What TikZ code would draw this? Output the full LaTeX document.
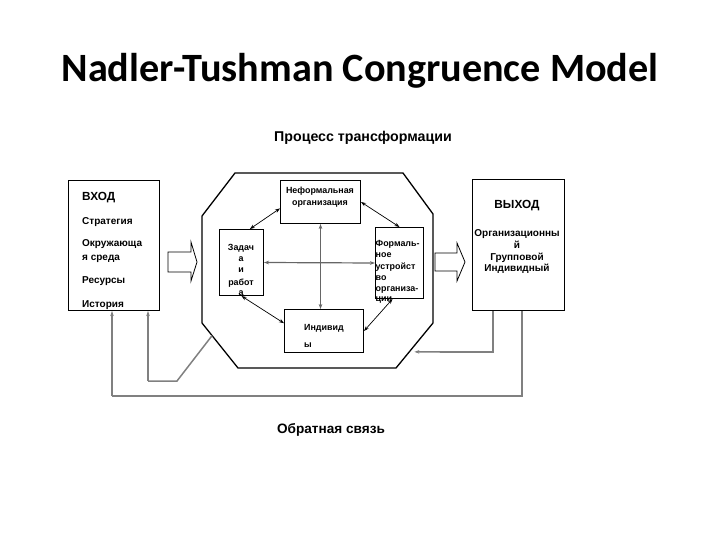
\documentclass[tikz,border=0pt]{standalone}
\usepackage{fontspec}
\setmainfont{Liberation Sans}
\newfontfamily\titlefont{Carlito}
\usetikzlibrary{arrows.meta,calc}
\begin{document}
\begin{tikzpicture}[x=1pt,y=-1pt,
  box/.style={draw=black,line width=1pt,inner sep=0pt,anchor=north west},
  txt/.style={inner sep=0pt,anchor=base west,font=\bfseries\fontsize{10}{11}\selectfont},
  ctxt/.style={inner sep=0pt,anchor=base,font=\bfseries\fontsize{10}{11}\selectfont},
  itxt/.style={inner sep=0pt,anchor=base,font=\bfseries\fontsize{8.9}{10}\selectfont},
  iltxt/.style={inner sep=0pt,anchor=base west,font=\bfseries\fontsize{8.9}{10}\selectfont},
  dbl/.style={line width=0.7pt,{Stealth[length=5pt,width=3.6pt]}-{Stealth[length=5pt,width=3.6pt]}},
  dblg/.style={line width=1.2pt,draw=black!60,{Stealth[length=5pt,width=3.6pt]}-{Stealth[length=5pt,width=3.6pt]}},
  fb/.style={line width=1.5pt,draw=black!50},
  fbtip/.style={-{Stealth[length=5pt,width=3.5pt]}},
  blk/.style={draw=black,line width=0.8pt,fill=white}
]
\useasboundingbox (0,0) rectangle (720,540);

% title
\node[inner sep=0pt,font=\titlefont\bfseries\fontsize{40.2}{45}\selectfont] (title) at (360,71) {Nadler-Tushman Congruence Model};

\node[inner sep=0pt,anchor=base,font=\bfseries\fontsize{14.2}{16}\selectfont] (proc) at (363,142) {Процесс трансформации};
\node[inner sep=0pt,anchor=base,font=\bfseries\fontsize{13.6}{15}\selectfont] (obr) at (331,433) {Обратная связь};

% input box
\node[box,minimum width=91pt,minimum height=130pt] (in) at (68,180) {};
\node[txt,font=\bfseries\fontsize{11.8}{13}\selectfont] (inh) at (82,201) {ВХОД};
\node[txt] (in1) at (82,224.5) {Стратегия};
\node[txt] (in2) at (82,246.5) {Окружающа};
\node[txt] (in3) at (82,260.5) {я среда};
\node[txt] (in4) at (82,283.5) {Ресурсы};
\node[txt] (in5) at (82,307.5) {История};

% output box
\node[box,minimum width=92pt,minimum height=131pt] (out) at (472,179) {};
\node[ctxt,font=\bfseries\fontsize{11.8}{13}\selectfont] (outh) at (517,209) {ВЫХОД};
\node[ctxt] (out1) at (517,236.5) {Организационны};
\node[ctxt] (out2) at (517,248.5) {й};
\node[ctxt] (out3) at (517,260.5) {Групповой};
\node[ctxt] (out4) at (517,271.5) {Индивидный};

% block arrows
\draw[blk] (168,252) -- (191,252) -- (191,242) -- (197,262) -- (191,281) -- (191,272) -- (168,272) -- cycle;
\draw[blk] (435,253) -- (457,253) -- (457,243) -- (465,262) -- (457,281) -- (457,271) -- (435,271) -- cycle;

% octagon
\coordinate (o1) at (235,173);
\coordinate (o2) at (403,173);
\coordinate (o3) at (433,214);
\coordinate (o4) at (433,323);
\coordinate (o5) at (396,368);
\coordinate (o6) at (238,368);
\coordinate (o7) at (202,323);
\coordinate (o8) at (202,216);
\draw[line width=1.3pt,line join=miter] (o1) -- (o2) -- (o3) -- (o4) -- (o5) -- (o6) -- (o7) -- (o8) -- cycle;

% inner boxes
\node[box,minimum width=80pt,minimum height=43pt] (inf) at (280,180) {};
\node[itxt] (inf1) at (320,194) {Неформальная};
\node[itxt] (inf2) at (320,206) {организация};

\node[box,minimum width=44pt,minimum height=66pt] (zad) at (219,229) {};
\node[itxt] (z1) at (241,251) {Задач};
\node[itxt] (z2) at (241,261) {а};
\node[itxt] (z3) at (241,272) {и};
\node[itxt] (z4) at (241,285) {работ};
\node[itxt] (z5) at (241,295.5) {а};

\node[box,minimum width=48pt,minimum height=71pt] (form) at (375,227) {};
\node[iltxt] (f1) at (375.5,246) {Формаль-};
\node[iltxt] (f2) at (375.5,257) {ное};
\node[iltxt] (f3) at (375.5,269) {устройст};
\node[iltxt] (f4) at (375.5,280) {во};
\node[iltxt] (f5) at (375.5,291) {организа-};
\node[iltxt] (f6) at (375.5,301) {ции};

\node[box,minimum width=79pt,minimum height=43pt] (ind) at (284,309) {};
\node[iltxt] (i1) at (304,330) {Индивид};
\node[iltxt] (i2) at (304,347) {ы};

% inner arrows
\draw[dbl] (inf.189) -- (zad.76);
\draw[dbl] (inf.east) -- (form.north);
\draw[dblg] (inf.south) -- (inf.south |- ind.north);
\draw[dblg] (zad.east) -- (form.west);
\draw[dbl] (zad.south) -- (ind.169);
\draw[dbl] (form.259) -- (ind.east);

% feedback loops
\coordinate (octL) at ($(o7)!0.28!(o6)$);
\coordinate (octR) at ($(o4)!0.64!(o5)$);
\draw[fb] (octL) -- (177,381) -- (148,381);
\draw[fb,fbtip] (148,381) -- (in.south west -| 148,0);
\draw[fb] (out.south west -| 522,0) -- (522,396) -- (112,396);
\draw[fb,fbtip] (112,396) -- (in.south west -| 112,0);
\draw[fb] (out.south west -| 493,0) -- (493,352) -- (440,352);
\draw[fb,fbtip,shorten >=5pt] (440,352) -- (octR);
\end{tikzpicture}
\end{document}
